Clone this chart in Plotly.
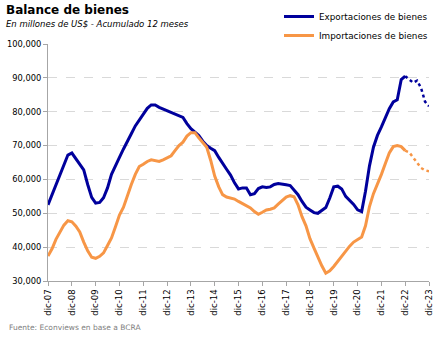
import pandas as pd
import plotly.graph_objects as go

# Bimonthly dates from dic-07 to dic-23
dates = pd.date_range("2007-12-01", periods=97, freq="2MS")

exportaciones = [
    52.5, 55.5, 58.0, 61.0, 64.5, 67.2, 67.8, 66.0, 64.3, 62.8,
    58.5, 54.7, 53.0, 53.2, 54.6, 57.5, 61.5, 63.8, 66.5, 69.0,
    71.0, 73.5, 75.8, 77.6, 79.3, 81.0, 82.0, 82.0, 81.3, 80.8,
    80.3, 79.6, 79.2, 78.8, 78.3, 76.5, 75.0, 74.0, 73.0, 71.3,
    70.0, 69.2, 68.5, 66.5, 64.6, 63.0, 61.3, 59.0, 57.2, 57.5,
    57.5, 55.5, 55.8, 57.3, 57.8, 57.6, 57.8, 58.5, 58.8, 58.5,
    58.4, 58.2, 57.0, 55.5, 53.5, 51.8, 51.0, 50.2, 50.0, 50.8,
    51.7, 54.5, 57.8, 58.0, 57.2, 55.0, 53.8, 52.6, 51.0, 50.5,
    56.5, 64.0, 69.5, 73.0, 75.5, 78.5, 80.9, 82.9, 83.5, 89.5,
    90.5,
    89.5, 88.6, 89.2, 87.0, 83.0, 81.6,
]
importaciones = [
    37.4, 39.5, 42.3, 44.3, 46.5, 47.8, 47.5, 46.2, 44.5, 41.5,
    38.9, 37.0, 36.7, 37.3, 38.3, 40.5, 42.7, 46.0, 49.5, 51.8,
    55.3, 58.5, 61.5, 63.8, 64.5, 65.3, 65.8, 65.6, 65.3, 65.8,
    66.5, 67.0, 68.5, 70.0, 71.0, 72.8, 73.8, 73.8, 72.3, 71.0,
    69.5, 65.6, 61.0, 57.8, 55.5, 54.8, 54.6, 54.2, 53.5, 52.9,
    52.3, 51.6, 50.5, 49.7, 50.3, 51.0, 51.2, 51.6, 52.7, 53.7,
    54.8, 55.2, 54.9, 52.5, 49.0, 46.3, 42.5, 39.7, 37.0, 34.5,
    32.3, 33.0, 34.3, 35.8, 37.5, 38.8, 40.3, 41.5, 42.2, 43.0,
    46.3, 52.0, 55.8, 58.5, 61.5, 64.8, 67.8, 69.7, 70.0, 69.7,
    68.5,
    68.0, 66.5, 64.8, 63.4, 62.7, 62.4,
]
n_real = 91  # last observed point index + 1 (rest is projection)

tick_years = list(range(2007, 2024))
tick_vals = [f"{y}-12-01" for y in tick_years]
tick_text = [f"dic-{y % 100:02d}" for y in tick_years]

BLUE = "#00009C"
ORANGE = "#F79646"
exp_v = [v * 1000 for v in exportaciones]
imp_v = [v * 1000 for v in importaciones]

fig = go.Figure()
fig.add_trace(go.Scatter(x=dates[:n_real], y=exp_v[:n_real], mode="lines",
                         name="Exportaciones de bienes", legendgroup="e",
                         line=dict(color=BLUE, width=3)))
fig.add_trace(go.Scatter(x=dates[n_real - 1:], y=exp_v[n_real - 1:], mode="lines",
                         name="Exportaciones de bienes", legendgroup="e", showlegend=False,
                         line=dict(color=BLUE, width=2.5, dash="dot")))
fig.add_trace(go.Scatter(x=dates[:n_real], y=imp_v[:n_real], mode="lines",
                         name="Importaciones de bienes", legendgroup="i",
                         line=dict(color=ORANGE, width=3)))
fig.add_trace(go.Scatter(x=dates[n_real - 1:], y=imp_v[n_real - 1:], mode="lines",
                         name="Importaciones de bienes", legendgroup="i", showlegend=False,
                         line=dict(color=ORANGE, width=2.5, dash="dot")))

FONT = "DejaVu Sans"
PW, PH = 381, 237
fig.update_layout(
    width=443, height=339,
    margin=dict(l=48, r=14, t=44, b=58, autoexpand=False),
    paper_bgcolor="white", plot_bgcolor="white",
    font=dict(family=FONT, size=8.3, color="#000000"),
    showlegend=True,
    legend=dict(x=(279 - 48) / PW, y=(281 - 2) / PH, xanchor="left", yanchor="top",
                font=dict(size=8.8, family=FONT), tracegroupgap=0,
                bgcolor="rgba(0,0,0,0)", itemwidth=30),
    xaxis=dict(type="date", range=["2007-12-01", "2023-12-01"], automargin=False,
               tickvals=tick_vals, ticktext=tick_text, tickangle=-90,
               showgrid=False, showline=True, linecolor="#a6a6a6", linewidth=1,
               ticks="outside", ticklen=4, tickcolor="#a6a6a6",
               tickfont=dict(size=8.5, family=FONT)),
    yaxis=dict(range=[30000, 100000], dtick=10000, tickformat=",", automargin=False,
               showgrid=True, gridcolor="#d9d9d9", griddash="dash", gridwidth=1,
               showline=True, linecolor="#a6a6a6", linewidth=1,
               ticks="outside", ticklen=4, tickcolor="#a6a6a6",
               tickfont=dict(size=8.3, family=FONT), zeroline=False),
    annotations=[
        dict(text="<b>Balance de bienes</b>", xref="paper", yref="paper",
             x=-44/PW, y=(281-1)/PH, xanchor="left", yanchor="top",
             showarrow=False, font=dict(size=12, family=FONT, color="#000")),
        dict(text="<i>En millones de US$ - Acumulado 12 meses</i>", xref="paper", yref="paper",
             x=-44/PW, y=(281-17)/PH, xanchor="left", yanchor="top",
             showarrow=False, font=dict(size=8.5, family=FONT, color="#000")),
        dict(text="Fuente: Econviews en base a BCRA", xref="paper", yref="paper",
             x=-41/PW, y=(281-321)/PH, xanchor="left", yanchor="top",
             showarrow=False, font=dict(size=7.5, family=FONT, color="#808080")),
    ],
)

fig.write_html("out.html")
